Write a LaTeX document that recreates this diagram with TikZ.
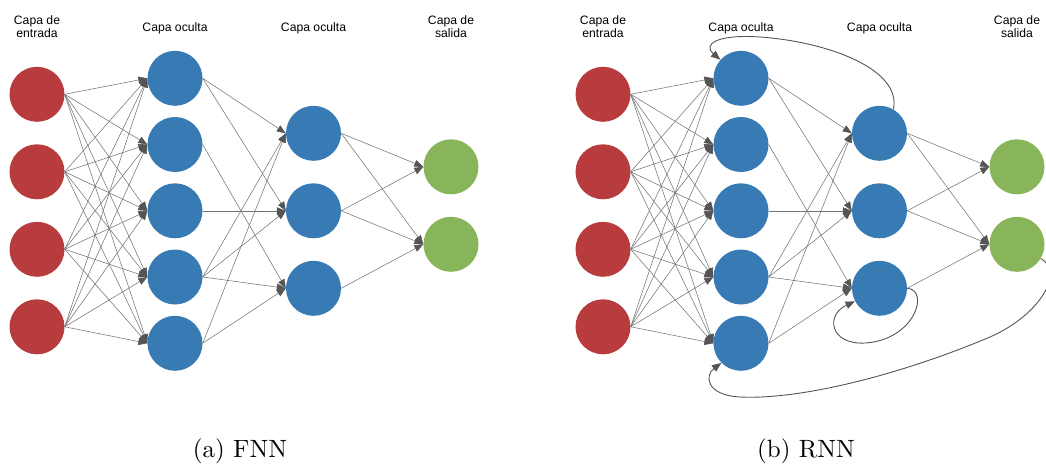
\documentclass[tikz,border=0pt]{standalone}
\usepackage{fontspec}
\newfontfamily\labelfont{Liberation Sans}
\newfontfamily\capfont{lmroman10-regular.otf}
\usetikzlibrary{arrows.meta}
\definecolor{nred}{HTML}{B83C3E}
\definecolor{nblue}{HTML}{377AB4}
\definecolor{ngreen}{HTML}{88B45A}
\definecolor{edgegray}{HTML}{747474}
\definecolor{recgray}{HTML}{555555}
\begin{document}
\begin{tikzpicture}[x=1pt,y=-1pt,
  neuron/.style={circle,minimum size=55pt,inner sep=0pt,draw=none},
  lab/.style={font=\labelfont\fontsize{12.2}{13.5}\selectfont,align=center,inner sep=0pt},
  captext/.style={font=\capfont\fontsize{25}{30}\selectfont,inner sep=0pt,anchor=base},
  conn/.style={draw=edgegray,line width=0.55pt,-{Triangle[length=9pt,width=7pt,color=recgray]}},
  recconn/.style={draw=recgray,line width=0.9pt,-{Triangle[length=9.5pt,width=7.5pt]}}]
\useasboundingbox (0,0) rectangle (1046,463);
\foreach \p/\dx in {f/0,r/566}{
  \foreach \k/\y in {1/94.3,2/171.8,3/249.3,4/326.8}
    \node[neuron,fill=nred] (\p i\k) at (37+\dx,\y) {};
  \foreach \k/\y in {1/78.3,2/144.5,3/210.8,4/277,5/343.3}
    \node[neuron,fill=nblue] (\p h\k) at (175+\dx,\y) {};
  \foreach \k/\y in {1/133.3,2/210.8,3/288.3}
    \node[neuron,fill=nblue] (\p g\k) at (313.5+\dx,\y) {};
  \foreach \k/\y in {1/166.8,2/244.3}
    \node[neuron,fill=ngreen] (\p o\k) at (451+\dx,\y) {};
  \node[lab] (\p la) at (37+\dx,26.5) {Capa de\\entrada};
  \node[lab,anchor=base] (\p lb) at (175+\dx,31) {Capa oculta};
  \node[lab,anchor=base] (\p lc) at (313.5+\dx,31) {Capa oculta};
  \node[lab] (\p ld) at (451+\dx,26.5) {Capa de\\salida};
  \foreach \a in {1,...,4}
    \foreach \b in {1,...,5}
      \draw[conn] (\p i\a.east) -- (\p h\b.west);
  \foreach \a/\b in {1/1,1/2,2/3,3/2,4/1,4/2,4/3,5/1,5/3}
    \draw[conn] (\p h\a.east) -- (\p g\b.west);
  \foreach \a/\b in {1/1,1/2,2/1,2/2,3/2}
    \draw[conn] (\p g\a.east) -- (\p o\b.west);
}
% recurrent connections
\draw[recconn] (rg1.60) .. controls (902,70) and (830,42) .. (760,37)
  .. controls (715,34) and (703,45) .. (rh1.138);
\draw[recconn] (rg3.0) .. controls (930,290) and (915,340) .. (865,343)
  .. controls (830,345) and (825,315) .. (rg3.208);
\draw[recconn] (ro2.329) .. controls (1065,272) and (1040,315) .. (990,337)
  .. controls (900,375) and (800,400) .. (740,397)
  .. controls (705,395) and (705,375) .. (rh5.225);
\node[captext] (capa) at (240,457) {(a) FNN};
\node[captext] (capb) at (806,457) {(b) RNN};
\end{tikzpicture}
\end{document}
